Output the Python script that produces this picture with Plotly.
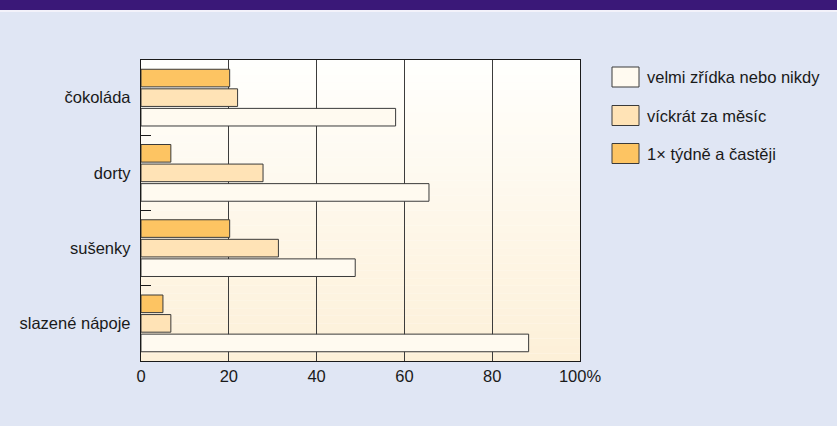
import plotly.graph_objects as go

# ---- data ----
categories = ["čokoláda", "dorty", "sušenky", "slazené nápoje"]
series_names = ["velmi zřídka nebo nikdy", "víckrát za měsíc", "1× týdně a častěji"]
rarely = [58.0, 65.6, 48.8, 88.3]
monthly = [22.0, 27.8, 31.3, 6.8]
weekly = [20.2, 6.8, 20.2, 5.0]
x_tickvals = [0, 20, 40, 60, 80, 100]
x_ticktext = ["0", "20", "40", "60", "80", "100%"]

colors = ["#fffaf0", "#ffe3b6", "#fdc462"]
series_values = [rarely, monthly, weekly]

W, H = 837, 426
ML, MR, MT, MB = 141, 257, 60, 65
PW = W - ML - MR
PH = H - MT - MB

def px_x(px):
    return (px - ML) / PW

def px_y(py):
    return 1 - (py - MT) / PH

FONT = "Liberation Sans, Arial, Helvetica, sans-serif"

fig = go.Figure()
for name, vals, col in zip(series_names, series_values, colors):
    fig.add_trace(go.Bar(
        y=categories, x=vals, name=name, orientation="h",
        marker=dict(color=col, line=dict(color="#3a3a3a", width=1)),
        showlegend=False,
    ))

shapes = []
# gradient plot background (white -> light peach)
n = 40
top = (255, 255, 253)
bot = (253, 240, 216)
for i in range(n):
    t = i / (n - 1)
    c = tuple(round(top[k] + (bot[k] - top[k]) * t) for k in range(3))
    shapes.append(dict(type="rect", xref="paper", yref="paper",
                       x0=0, x1=1, y0=1 - (i + 1) / n, y1=1 - i / n,
                       fillcolor="rgb(%d,%d,%d)" % c, line=dict(width=0),
                       layer="below"))
# header bar
shapes.append(dict(type="rect", xref="paper", yref="paper",
                   x0=px_x(0), x1=px_x(W), y0=px_y(10), y1=px_y(0),
                   fillcolor="#3a1878", line=dict(width=0), layer="above"))
shapes.append(dict(type="rect", xref="paper", yref="paper",
                   x0=px_x(0), x1=px_x(W), y0=px_y(12), y1=px_y(10),
                   fillcolor="#f3f2fa", line=dict(width=0), layer="above"))

# custom legend
annotations = []
leg_rows = [77, 115.5, 153.5]
for name, col, cy in zip(series_names, colors, leg_rows):
    shapes.append(dict(type="rect", xref="paper", yref="paper",
                       x0=px_x(612), x1=px_x(639), y0=px_y(cy + 10), y1=px_y(cy - 10),
                       fillcolor=col, line=dict(color="#3a3a3a", width=1),
                       layer="above"))
    annotations.append(dict(xref="paper", yref="paper", x=px_x(645), y=px_y(cy),
                            text=name, showarrow=False, xanchor="left",
                            yanchor="middle",
                            font=dict(family=FONT, size=16.5, color="#1a1a1a")))

fig.update_layout(
    width=W, height=H, autosize=False,
    margin=dict(l=ML, r=MR, t=MT, b=MB, pad=0),
    paper_bgcolor="#e0e6f4",
    plot_bgcolor="#fffdf8",
    barmode="group",
    bargap=0.22,
    bargroupgap=0.1,
    font=dict(family=FONT, size=16.5, color="#1a1a1a"),
    shapes=shapes,
    annotations=annotations,
    xaxis=dict(
        range=[0, 100], tickvals=x_tickvals, ticktext=x_ticktext,
        showgrid=True, gridcolor="#3c3c3c", gridwidth=1,
        showline=True, linecolor="#1a1a1a", linewidth=1.3, mirror=True,
        ticks="", zeroline=False, fixedrange=True,
    ),
    yaxis=dict(
        categoryorder="array", categoryarray=categories[::-1],
        showgrid=False, showline=True, linecolor="#1a1a1a", linewidth=1.3,
        mirror=True, ticks="inside", ticklen=10, tickcolor="#1a1a1a",
        tickwidth=1, tickson="boundaries", ticklabelstandoff=6,
        fixedrange=True,
    ),
)

fig.write_html("out.html")
